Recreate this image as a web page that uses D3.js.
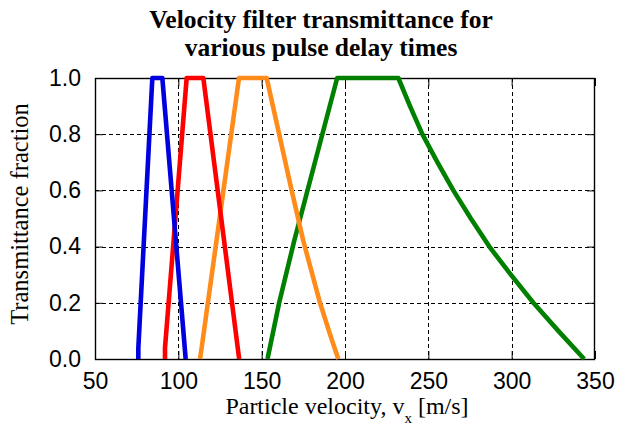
<!DOCTYPE html>
<html>
<head>
<meta charset="utf-8">
<script src="https://cdn.jsdelivr.net/npm/d3@7"></script>
<style>
  html, body { margin: 0; padding: 0; background: #fff; }
  svg { display: block; }
</style>
</head>
<body>
<svg id="chart" width="617" height="425"></svg>
<script>
// Transmittance curves, one per pulse delay: velocity [m/s] and transmitted fraction
const blueVelocity   = [76, 76, 84.4, 90.4, 104.4];
const blueFraction   = [0, 0.04, 1, 1, 0];
const redVelocity    = [92, 92, 105, 115, 136.5];
const redFraction    = [0, 0.04, 1, 1, 0];
const orangeVelocity = [113, 114, 136.4, 153, 168, 175, 185, 192, 196];
const orangeFraction = [0, 0.04, 1, 1, 0.6, 0.42, 0.2, 0.07, 0];
const greenVelocity  = [153.5, 160.5, 169.5, 195.3, 232, 239, 246.4, 255.5, 265, 275.5, 286.6, 299.5, 313, 328, 343.5];
const greenFraction  = [0, 0.2, 0.42, 1, 1, 0.9, 0.8, 0.7, 0.6, 0.5, 0.4, 0.3, 0.2, 0.1, 0];

const xTicks = [50, 100, 150, 200, 250, 300, 350];
const yTicks = [0, 0.2, 0.4, 0.6, 0.8, 1.0];

const series = [
  { color: "#008000", v: greenVelocity,  t: greenFraction },
  { color: "#ff8c1a", v: orangeVelocity, t: orangeFraction },
  { color: "#ff0000", v: redVelocity,    t: redFraction },
  { color: "#0000e0", v: blueVelocity,   t: blueFraction }
];

const svg = d3.select("#chart");
const plotLeft = 95, plotRight = 595, plotTop = 78, plotBottom = 359;

const x = d3.scaleLinear().domain([50, 350]).range([plotLeft, plotRight]);
const y = d3.scaleLinear().domain([0, 1]).range([plotBottom, plotTop]);

// dashed grid
const grid = svg.append("g").attr("stroke", "#000").attr("stroke-width", 1)
  .attr("stroke-dasharray", "4,3").attr("shape-rendering", "crispEdges");
grid.selectAll("line.gx").data(xTicks.slice(1, -1)).join("line")
  .attr("x1", d => Math.round(x(d)) + 0.5).attr("x2", d => Math.round(x(d)) + 0.5)
  .attr("y1", plotTop).attr("y2", plotBottom);
grid.selectAll("line.gy").data(yTicks.slice(1, -1)).join("line")
  .attr("y1", d => Math.round(y(d)) + 0.5).attr("y2", d => Math.round(y(d)) + 0.5)
  .attr("x1", plotLeft).attr("x2", plotRight);

// axes with inward ticks
const tickFont = "'Liberation Sans', Arial, sans-serif";
const xAxis = svg.append("g").attr("transform", `translate(0,${plotBottom})`)
  .call(d3.axisBottom(x).tickValues(xTicks).tickSize(-8).tickPadding(14).tickFormat(d3.format("d")));
const xAxisTop = svg.append("g").attr("transform", `translate(0,${plotTop})`)
  .call(d3.axisTop(x).tickValues(xTicks).tickSize(-8).tickFormat(""));
const yAxis = svg.append("g").attr("transform", `translate(${plotLeft},0)`)
  .call(d3.axisLeft(y).tickValues(yTicks).tickSize(-8).tickPadding(14).tickFormat(d3.format(".1f")));
const yAxisRight = svg.append("g").attr("transform", `translate(${plotRight},0)`)
  .call(d3.axisRight(y).tickValues(yTicks).tickSize(-8).tickFormat(""));

[xAxis, xAxisTop, yAxis, yAxisRight].forEach(g => {
  g.select(".domain").remove();
  g.selectAll("line").attr("stroke", "#000").attr("stroke-width", 1);
  g.selectAll("text").attr("font-family", tickFont).attr("font-size", 23).attr("fill", "#000");
});

// frame
svg.append("rect").attr("x", plotLeft + 0.5).attr("y", plotTop + 0.5)
  .attr("width", plotRight - plotLeft - 1).attr("height", plotBottom - plotTop)
  .attr("fill", "none").attr("stroke", "#000").attr("stroke-width", 1.4);

// curves
const line = d3.line().x(d => x(d[0])).y(d => y(d[1]));
svg.append("g").selectAll("path").data(series).join("path")
  .attr("d", s => line(s.v.map((v, i) => [v, s.t[i]])))
  .attr("fill", "none").attr("stroke", s => s.color)
  .attr("stroke-width", 4.6).attr("stroke-linejoin", "round").attr("stroke-linecap", "butt");

// titles
const serif = "'Liberation Serif', 'Times New Roman', serif";
const title = svg.append("text").attr("text-anchor", "middle")
  .attr("font-family", serif).attr("font-weight", "bold").attr("font-size", 25.5).attr("fill", "#000");
title.append("tspan").attr("x", 321).attr("y", 28).text("Velocity filter transmittance for");
title.append("tspan").attr("x", 321).attr("y", 56).text("various pulse delay times");

const xLabel = svg.append("text").attr("text-anchor", "middle")
  .attr("x", 347).attr("y", 414)
  .attr("font-family", serif).attr("font-size", 24).attr("fill", "#000");
xLabel.append("tspan").text("Particle velocity, v");
xLabel.append("tspan").attr("font-size", 15).attr("dy", 9).text("x");
xLabel.append("tspan").attr("dy", -9).text(" [m/s]");

svg.append("text").attr("text-anchor", "middle")
  .attr("transform", "translate(28,214) rotate(-90)")
  .attr("font-family", serif).attr("font-size", 24.5).attr("fill", "#000")
  .text("Transmittance fraction");
</script>
</body>
</html>
